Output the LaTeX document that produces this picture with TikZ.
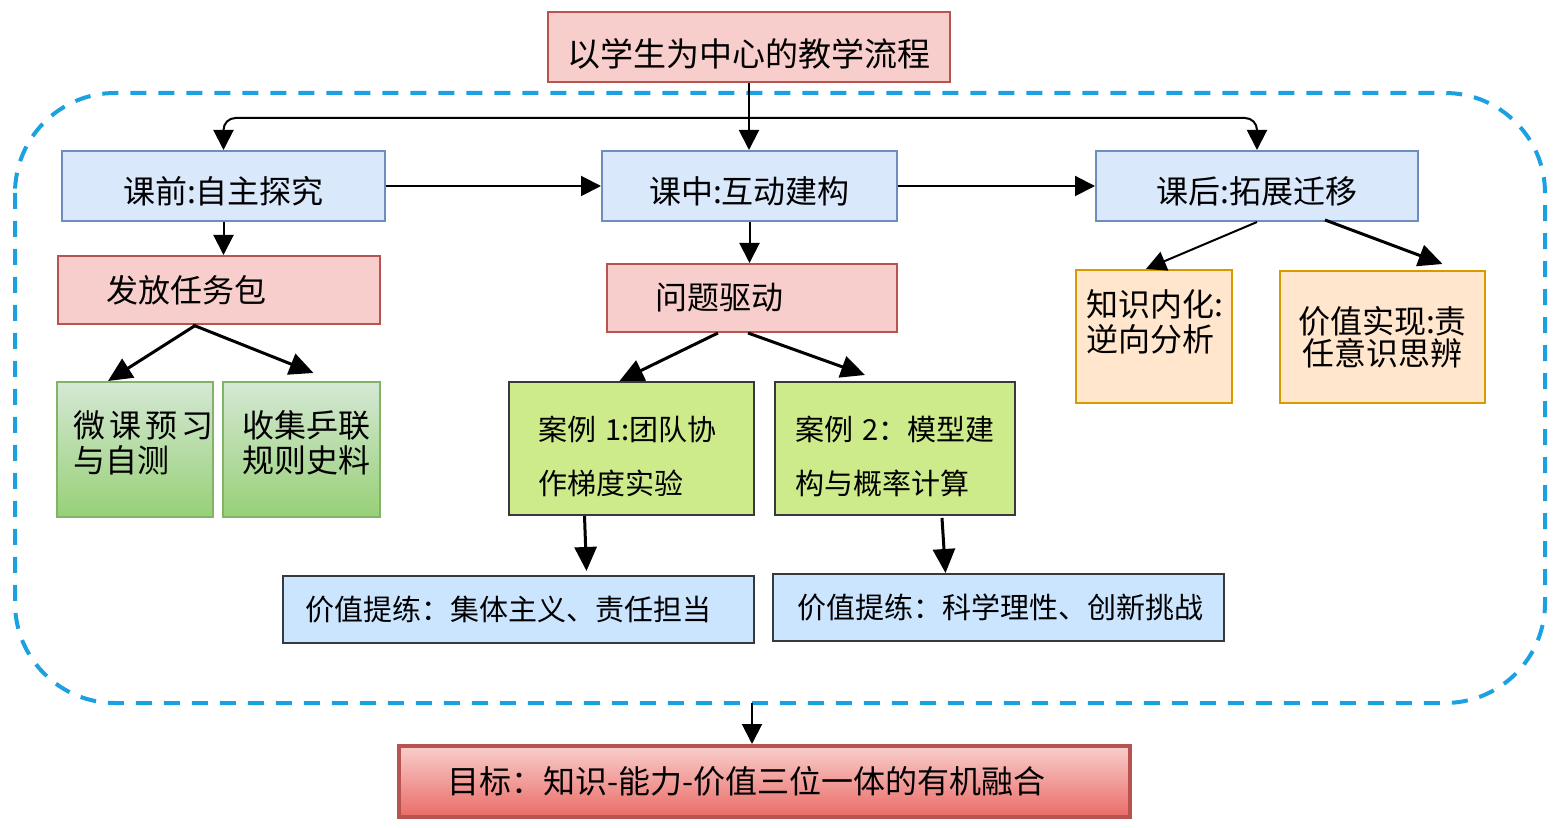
\documentclass[tikz,border=0pt]{standalone}
\usepackage{fontspec}
\setmainfont{Noto Sans CJK SC}
\usepackage{xcolor}
\usepackage{tikz}
\usetikzlibrary{arrows.meta}
\usetikzlibrary{calc}

\definecolor{redfill}{HTML}{F8CECC}
\definecolor{redline}{HTML}{B85450}
\definecolor{redlow}{HTML}{EA6B66}
\definecolor{bluefill}{HTML}{DAE8FC}
\definecolor{blueline}{HTML}{6C8EBF}
\definecolor{greentop}{HTML}{D5E8D4}
\definecolor{greenlow}{HTML}{97D077}
\definecolor{greenline}{HTML}{82B366}
\definecolor{limefill}{HTML}{CDEB8B}
\definecolor{darkline}{HTML}{36393D}
\definecolor{skyfill}{HTML}{CCE5FF}
\definecolor{orangefill}{HTML}{FFE6CC}
\definecolor{orangeline}{HTML}{D79B00}
\definecolor{framecol}{HTML}{1BA1E2}

\tikzset{
    box/.style={draw, line width=1pt, inner sep=0pt,
        font=\fontsize{16pt}{17.5pt}\selectfont},
    lowtext/.style={text height=#1, text depth=0pt},
    redbox/.style={box, fill=redfill, draw=redline},
    bluebox/.style={box, fill=bluefill, draw=blueline, lowtext=18pt},
    greenbox/.style={box, top color=greentop, bottom color=greenlow, draw=greenline},
    casebox/.style={box, fill=limefill, draw=darkline,
        font=\fontsize{14.5pt}{27pt}\selectfont},
    skybox/.style={box, fill=skyfill, draw=darkline,
        font=\fontsize{14.5pt}{17pt}\selectfont},
    orangebox/.style={box, fill=orangefill, draw=orangeline},
    goalbox/.style={box, top color=redfill, bottom color=redlow, draw=redline, line width=2pt},
    frame/.style={draw=framecol, line width=2pt, dash pattern=on 8pt off 6pt, rounded corners=50pt},
    flow/.style={-{Triangle[length=10pt,width=10pt]}, line width=1pt},
    branch/.style={-{Triangle[length=12pt,width=11pt]}, line width=1.5pt},
}

\begin{document}
\begin{tikzpicture}[x=0.5pt, y=-0.5pt]
    \useasboundingbox (0,0) rectangle (1559,828);

    % dashed frame round the three stages
    \draw[frame] (15,93) rectangle (1545,703);

    % title and the three stages
    \node[redbox, minimum width=201pt, minimum height=35pt, lowtext=20pt,
        font=\fontsize{16.5pt}{20pt}\selectfont] (flow) at (749,47) {以学生为中心的教学流程};
    \node[bluebox, minimum width=161.5pt, minimum height=35pt] (pre) at (223.5,186) {课前:自主探究};
    \node[bluebox, minimum width=147.5pt, minimum height=35pt] (mid) at (749.5,186) {课中:互动建构};
    \node[bluebox, minimum width=161pt, minimum height=35pt] (post) at (1257,186) {课后:拓展迁移};

    % before class
    \node[redbox, text width=113pt, inner xsep=24pt, align=left, minimum height=34pt] (task) at (219,290) {发放任务包};
    \node[greenbox, text width=62pt, inner xsep=8pt, align=left, minimum height=67.5pt] (micro) at (135,449.5)
        {\mbox{微\hspace{2pt}课\hspace{2pt}预\hspace{2pt}习}\\与自测\par\kern7pt};
    \node[greenbox, text width=59.5pt, inner xsep=9.5pt, align=left, minimum height=67.5pt] (gather) at (301.5,449.5)
        {收集乒联\\规则史料\par\kern7pt};

    % in class
    \node[redbox, text width=97pt, inner xsep=24pt, align=left, minimum height=34pt] (probe) at (752,298) {问题驱动};
    \node[casebox, text width=93.5pt, inner xsep=14.5pt, align=left, minimum height=66.5pt] (case1) at (631.5,448.5)
        {案例 1:团队协\\作梯度实验\par\kern-8pt};
    \node[casebox, text width=100pt, inner xsep=10pt, align=left, minimum height=66.5pt] (case2) at (895,448.5)
        {案例 2：模型建\\构与概率计算\par\kern-8pt};
    \node[skybox, text width=213.5pt, inner xsep=11pt, align=left, minimum height=33.5pt] (val1) at (518.5,609.5)
        {价值提练：集体主义、责任担当};
    \node[skybox, text width=201.5pt, inner xsep=12pt, align=left, minimum height=33.5pt] (val2) at (998.5,607.5)
        {价值提练：科学理性、创新挑战};

    % after class
    \node[orangebox, text width=68pt, inner xsep=5pt, align=left, minimum height=66.5pt] (know) at (1154,336.5)
        {知识内化:\\逆向分析\par\kern15pt};
    \node[orangebox, minimum width=102.5pt, align=center, minimum height=66pt,
        font=\fontsize{16pt}{16pt}\selectfont] (value) at (1382.5,337) {价值实现:责\\任意识思辨};

    % goal
    \node[goalbox, text width=317.5pt, inner xsep=24pt, align=left, minimum height=35.5pt] (goal) at (764.5,781.5)
        {目标：知识-能力-价值三位一体的有机融合};

    % connectors
    \coordinate (split) at (749,118);
    \draw[flow] (flow.south) -- (flow.south |- mid.north);
    \draw[flow, rounded corners=6pt] (split) -| (pre.north);
    \draw[flow, rounded corners=6pt] (split) -| (post.north);
    \draw[flow] (pre.east) -- (mid.west);
    \draw[flow] (mid.east) -- (post.west);
    \draw[flow] (pre.south) -- (pre.south |- task.north);
    \draw[flow] (mid.south) -- (mid.south |- probe.north);

    \draw[branch] ($(task.south)+(-23,0)$) -- ($(micro.north)+(-27,0)$);
    \draw[branch] ($(task.south)+(-26,0)$) -- ($(gather.north)+(12,-8)$);
    \draw[branch] ($(probe.south)+(-34,0)$) -- ($(case1.north)+(-12,0)$);
    \draw[branch] ($(probe.south)+(-4,0)$) -- ($(case2.north)+(-30,-6)$);
    \draw[flow] (post.south) -- ($(know.north)+(-8,0)$);
    \draw[branch] ($(post.south)+(68,-2)$) -- ($(value.north)+(60,-6)$);
    \draw[branch] ($(case1.south)+(-47,0)$) -- ($(val1.north)+(68,-4)$);
    \draw[branch] ($(case2.south)+(47,2)$) -- ($(val2.north)+(-53,0)$);

    \coordinate (frameout) at (752,703);
    \draw[flow] (frameout) -- (frameout |- goal.north);
\end{tikzpicture}
\end{document}
